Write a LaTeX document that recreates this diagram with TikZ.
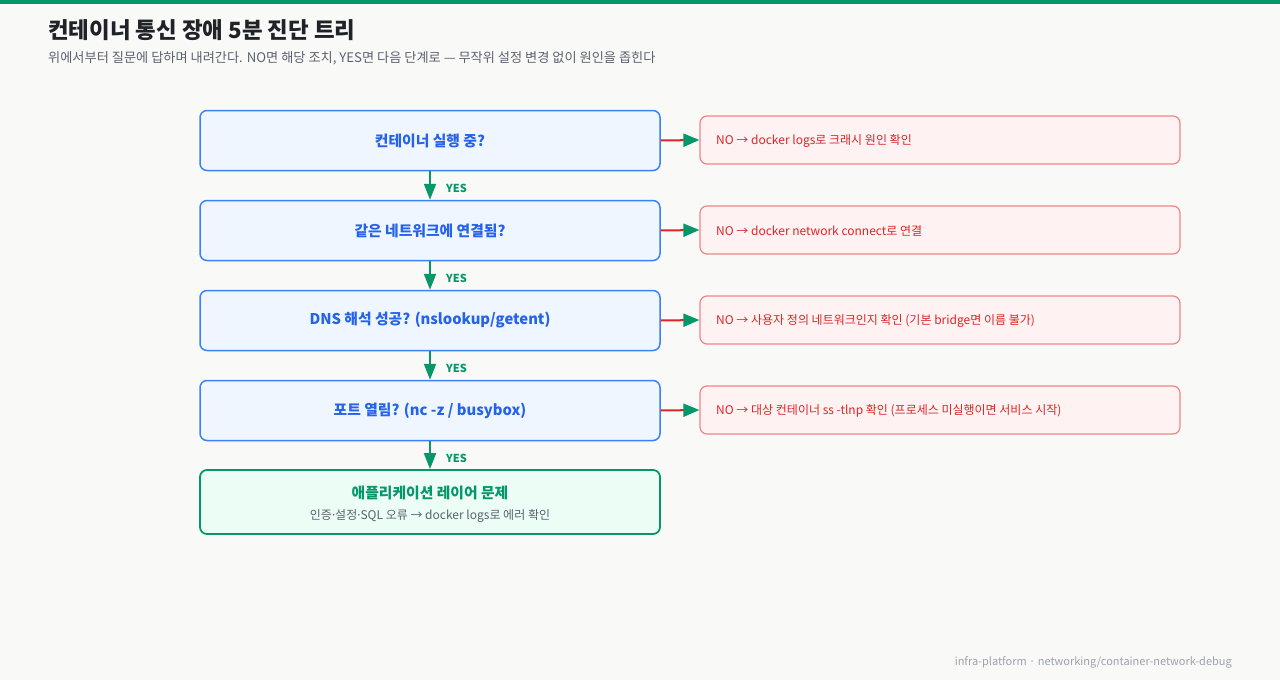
\documentclass[tikz,border=0pt]{standalone}
\usepackage{fontspec}
\setmainfont{Noto Sans CJK KR}
\newfontfamily\latinf{Noto Sans}
\usetikzlibrary{arrows.meta}
\definecolor{bg}{HTML}{F9FAF7}
\definecolor{grn}{HTML}{059669}
\definecolor{grnfill}{HTML}{ECFDF5}
\definecolor{bluebd}{HTML}{3B82F6}
\definecolor{bluetx}{HTML}{2563EB}
\definecolor{bluefill}{HTML}{EFF6FF}
\definecolor{redln}{HTML}{DC2626}
\definecolor{redbd}{HTML}{EF8585}
\definecolor{redfill}{HTML}{FEF2F2}
\definecolor{titletx}{HTML}{1F2328}
\definecolor{subtx}{HTML}{5B6270}
\definecolor{foottx}{HTML}{9CA3AF}
\tikzset{
  qbox/.style={draw=bluebd, fill=bluefill, line width=1.5pt, rounded corners=7pt,
    minimum width=460pt, minimum height=60pt, inner sep=0pt, text=bluetx,
    font=\fontsize{14.8}{17}\selectfont\bfseries},
  nobox/.style={draw=redbd, fill=redfill, line width=1.2pt, rounded corners=7pt,
    minimum width=480pt, minimum height=48pt, inner sep=0pt},
  notext/.style={anchor=west, text=redln, font=\fontsize{12}{14}\selectfont, inner sep=0pt},
  endbox/.style={draw=grn, fill=grnfill, line width=1.8pt, rounded corners=7pt,
    minimum width=460pt, minimum height=64pt, inner sep=0pt},
  yesarrow/.style={draw=grn, line width=2pt, -{Triangle[length=16pt,width=12pt]}},
  noarrow/.style={draw=redln, line width=2pt, -{Triangle[length=16pt,width=13pt,color=grn]}},
  yeslabel/.style={anchor=west, text=grn, font=\fontsize{11}{13}\selectfont\bfseries, inner sep=0pt},
}
\begin{document}
\begin{tikzpicture}[x=1pt,y=-1pt]
\useasboundingbox (0,0) rectangle (1280,680);
\fill[bg] (0,0) rectangle (1280,680);
\fill[grn] (0,0) rectangle (1280,4);

\node[anchor=west, inner sep=0pt, text=titletx, font=\fontsize{22.4}{26}\selectfont\bfseries] (title) at (48,30) {컨테이너 통신 장애 5분 진단 트리};
\node[anchor=west, inner sep=0pt, text=subtx, font=\fontsize{13.2}{16}\selectfont] (sub) at (48,58) {위에서부터 질문에 답하며 내려간다. NO면 해당 조치, YES면 다음 단계로 — 무작위 설정 변경 없이 원인을 좁힌다};

\node[qbox] (q1) at (430,140.5) {컨테이너 실행 중?};
\node[qbox] (q2) at (430,230.5) {같은 네트워크에 연결됨?};
\node[qbox] (q3) at (430,320.5) {DNS 해석 성공? (nslookup/getent)};
\node[qbox] (q4) at (430,410.5) {포트 열림? (nc -z / busybox)};
\node[endbox] (q5) at (430,502) {};
\node[text=grn, font=\fontsize{14.8}{17}\selectfont\bfseries, inner sep=0pt] (q5t) at (430,493) {애플리케이션 레이어 문제};
\node[text=subtx, font=\fontsize{12}{14}\selectfont, inner sep=0pt] (q5s) at (430,516) {인증{\latinf·}설정{\latinf·}SQL 오류 → docker logs로 에러 확인};

\node[nobox] (n1) at (940,140) {};
\node[nobox] (n2) at (940,230) {};
\node[nobox] (n3) at (940,320) {};
\node[nobox] (n4) at (940,410) {};
\node[notext] (n1t) at (716,141) {NO → docker logs로 크래시 원인 확인};
\node[notext] (n2t) at (716,231) {NO → docker network connect로 연결};
\node[notext] (n3t) at (716,321) {NO → 사용자 정의 네트워크인지 확인 (기본 bridge면 이름 불가)};
\node[notext] (n4t) at (716,411) {NO → 대상 컨테이너 ss -tlnp 확인 (프로세스 미실행이면 서비스 시작)};

\draw[yesarrow] (q1.south) -- (q2.north);
\draw[yesarrow] (q2.south) -- (q3.north);
\draw[yesarrow] (q3.south) -- (q4.north);
\draw[yesarrow] (q4.south) -- (q5.north);
\node[yeslabel] (y1) at (446,188) {YES};
\node[yeslabel] (y2) at (446,278) {YES};
\node[yeslabel] (y3) at (446,368) {YES};
\node[yeslabel] (y4) at (446,458) {YES};

\draw[noarrow] (q1.east) -- (n1.west);
\draw[noarrow] (q2.east) -- (n2.west);
\draw[noarrow] (q3.east) -- (n3.west);
\draw[noarrow] (q4.east) -- (n4.west);

\node[anchor=east, inner sep=0pt, text=foottx, font=\fontsize{11}{13}\selectfont] (foot) at (1232,662) {infra-platform · networking/container-network-debug};
\end{tikzpicture}
\end{document}
